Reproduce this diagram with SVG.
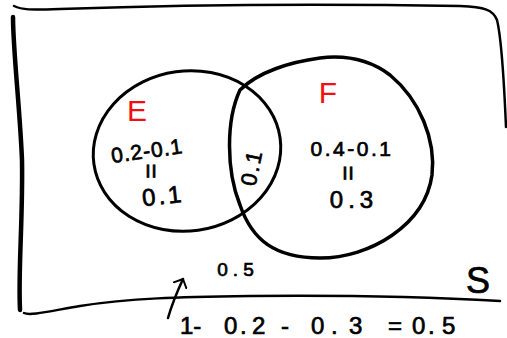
<svg xmlns="http://www.w3.org/2000/svg" width="507" height="338" viewBox="0 0 507 338">
<style>
.ink{fill:none;stroke:#000;stroke-linecap:round;stroke-linejoin:round}
.t{font-family:"Liberation Sans",Arial,sans-serif;fill:#000;stroke:#000;stroke-width:0.7}
.r{font-family:"Liberation Sans",Arial,sans-serif;fill:#f01010}
</style>
<defs>
<marker id="ah" viewBox="0 0 16 16" refX="8" refY="8" markerWidth="16" markerHeight="16" markerUnits="userSpaceOnUse" orient="auto">
<path d="M1,1 L8,8 L1,15" fill="none" stroke="#000" stroke-width="2" stroke-linecap="round" stroke-linejoin="round"/>
</marker>
</defs>
<rect width="507" height="338" fill="#fff"/>
<g id="frame">
<path class="ink" stroke-width="2.5" d="M14,6 C22,10 30,10 60,9 C200,4 350,4 460,6 C485,7 493,10 497,20 C502,40 504,80 506,127"/>
<path class="ink" stroke-width="4.5" d="M13,17 C13,50 20,110 22,160 C23,220 18,270 20,310"/>
<path class="ink" stroke-width="2.5" d="M24,313 C30,316 50,311 80,306 C130,298 180,297 250,296 C350,295 430,297 500,301"/>
</g>
<g id="E">
<ellipse class="ink" stroke-width="3" cx="187" cy="151" rx="94" ry="80" transform="rotate(-8 187 151)"/>
<text class="r" x="137" y="121" font-size="30" text-anchor="middle">E</text>
<text class="t" x="148" y="158" font-size="21" letter-spacing="1" text-anchor="middle" transform="rotate(-8 148 158)">0.2-0.1</text>
<text class="t" x="152" y="180" font-size="26" text-anchor="middle" transform="rotate(90 152 171)">=</text>
<text class="t" x="164" y="204" font-size="24" letter-spacing="3" text-anchor="middle" transform="rotate(-6 164 204)">0.1</text>
</g>
<g id="F">
<path class="ink" stroke-width="3.5" d="M240,90 C226,120 226,170 240,205 C252,240 275,258 320,258 C370,258 425,225 432,175 C436,140 420,100 390,75 C370,60 345,55 320,58 C290,62 258,72 240,90 Z"/>
<text class="r" x="328" y="103" font-size="30" text-anchor="middle">F</text>
<text class="t" x="352" y="156" font-size="21" letter-spacing="2.5" text-anchor="middle">0.4-0.1</text>
<text class="t" x="349" y="182" font-size="26" text-anchor="middle" transform="rotate(90 349 173)">=</text>
<text class="t" x="354" y="208" font-size="24" letter-spacing="5" text-anchor="middle">0.3</text>
</g>
<g id="EF">
<text class="t" x="259" y="169" font-size="22" letter-spacing="2" text-anchor="middle" transform="rotate(-78 259 169)">0.1</text>
</g>
<g id="outside">
<text class="t" x="238" y="276" font-size="19" letter-spacing="5" text-anchor="middle">0.5</text>
<text class="t" x="478" y="293" font-size="36" text-anchor="middle">S</text>
</g>
<g id="connectors">
<path class="ink" stroke-width="2.5" d="M168,318 C172,304 177,292 183,279" marker-end="url(#ah)"/>
</g>
<g id="formula">
<text class="t" y="334" font-size="24"><tspan x="180">1-</tspan><tspan x="224">0</tspan><tspan x="240">.</tspan><tspan x="252">2</tspan><tspan x="281">-</tspan><tspan x="311">0</tspan><tspan x="331">.</tspan><tspan x="349">3</tspan><tspan x="388">=</tspan><tspan x="412">0</tspan><tspan x="428">.</tspan><tspan x="442">5</tspan></text>
</g>
</svg>
